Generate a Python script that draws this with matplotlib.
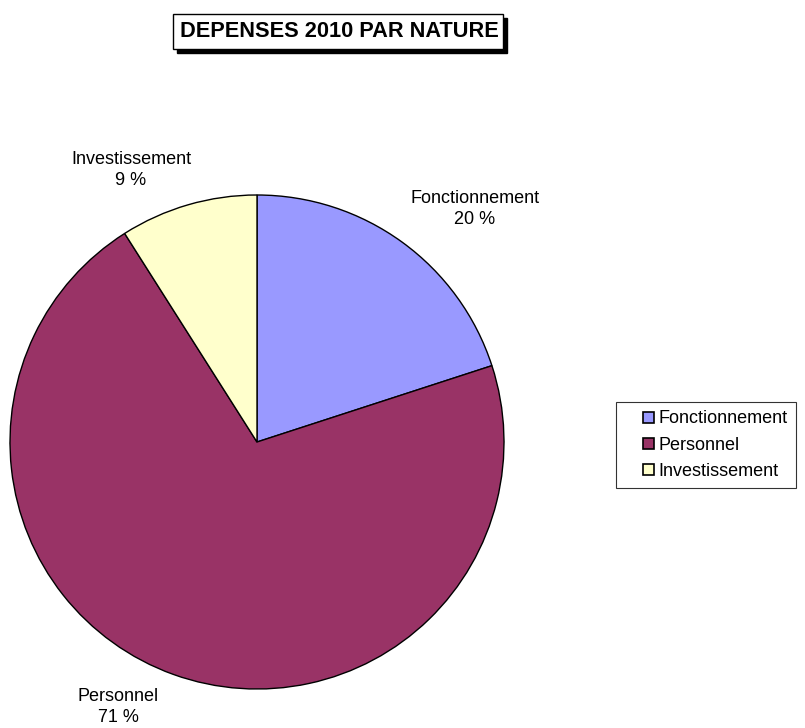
import matplotlib.pyplot as plt
from matplotlib.patches import Rectangle
from matplotlib.legend_handler import HandlerPatch

# data
categories = ['Fonctionnement', 'Personnel', 'Investissement']
values = [20, 71, 9]
colors = ['#9999FF', '#993366', '#FFFFCC']

W, H = 805, 728
fig = plt.figure(figsize=(W / 100, H / 100), dpi=100)
plt.rcParams['font.family'] = ['Liberation Sans', 'DejaVu Sans']

# pie axes: center (257, 442), radius 247 in pixels
cx, cy, r = 257, 442, 247
ax = fig.add_axes([(cx - r) / W, (H - cy - r) / H, 2 * r / W, 2 * r / H])
wedges, _ = ax.pie(values, colors=colors, startangle=90, counterclock=False,
                   wedgeprops=dict(edgecolor='black', linewidth=1))
ax.set_xlim(-1, 1)
ax.set_ylim(-1, 1)
ax.set_aspect('equal')
ax.axis('off')

# labels
label_pos = [(475, 209), (118, 707), (131, 170)]
for name, val, (x, y) in zip(categories, values, label_pos):
    fig.text(x / W, 1 - y / H, f'{name}\n{val} %', ha='center', va='center',
             fontsize=13, linespacing=1.3)

# title box with shadow
fig.patches.append(Rectangle((177 / W, 1 - 53 / H), 330 / W, 35 / H,
                             transform=fig.transFigure, facecolor='black',
                             edgecolor='black', zorder=1))
fig.patches.append(Rectangle((173 / W, 1 - 49 / H), 330 / W, 35 / H,
                             transform=fig.transFigure, facecolor='white',
                             edgecolor='black', linewidth=1, zorder=2))
fig.text(339 / W, 1 - 31.5 / H, 'DEPENSES 2010 PAR NATURE', ha='center',
         va='center', fontsize=15.7, fontweight='bold', zorder=3)


# small square at the right end of the handle area
def square(legend, orig_handle, xdescent, ydescent, width, height, fontsize):
    s = 0.6 * fontsize
    return Rectangle((-xdescent + width - s, -ydescent + (height - s) / 2), s, s)


# legend
handles = [Rectangle((0, 0), 1, 1, facecolor=c, edgecolor='black', linewidth=1.2)
           for c in colors]
leg = fig.legend(handles, categories, loc='center',
                 bbox_to_anchor=(706 / W, 1 - 445 / H), fontsize=13,
                 frameon=True, fancybox=False, handlelength=1.65,
                 handleheight=0.7, handletextpad=0.25, labelspacing=0.5,
                 borderpad=0.45, borderaxespad=0,
                 handler_map={Rectangle: HandlerPatch(patch_func=square)})
leg.get_frame().set_edgecolor('black')
leg.get_frame().set_linewidth(0.8)

fig.savefig('out.png', dpi=100)
